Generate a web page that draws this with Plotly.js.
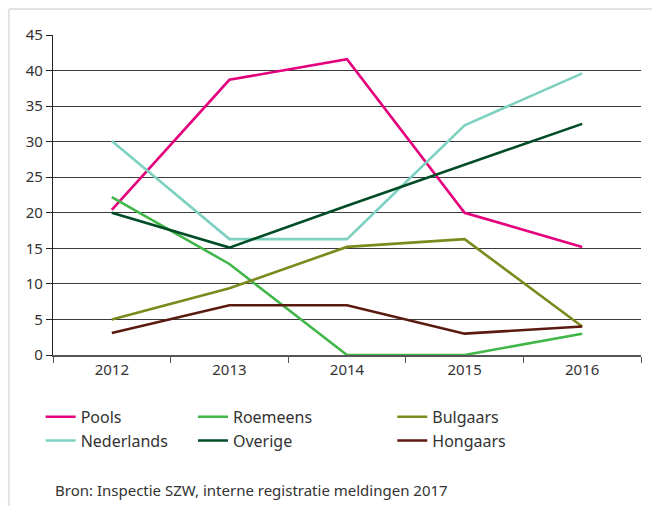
<!DOCTYPE html>
<html>
<head>
<meta charset="utf-8">
<script src="https://cdn.plot.ly/plotly-3.0.1.min.js"></script>
<style>
html,body{margin:0;padding:0;background:#fff;}
#chart{width:652px;height:506px;}
</style>
</head>
<body>
<div id="chart"></div>
<script>
const years = ['2012', '2013', '2014', '2015', '2016'];
const yTicks = [0, 5, 10, 15, 20, 25, 30, 35, 40, 45];

const pools = [20.4, 38.7, 41.6, 20.0, 15.2];
const roemeens = [22.2, 12.8, 0, 0, 3.0];
const bulgaars = [5.0, 9.4, 15.2, 16.3, 4.0];
const nederlands = [30.1, 16.3, 16.3, 32.3, 39.6];
const overige = [20.0, 15.1, 21.0, 26.8, 32.5];
const hongaars = [3.1, 7.0, 7.0, 3.0, 4.0];

const sourceText = 'Bron: Inspectie SZW, interne registratie meldingen 2017';

const FONT = '"Noto Sans", "Open Sans", sans-serif';

function tr(name, y, color, legend) {
  return {
    type: 'scatter', mode: 'lines', name: name, x: years, y: y,
    line: {color: color, width: 2.6},
    legend: legend, hoverinfo: 'x+y+name'
  };
}

const data = [
  tr('Pools', pools, '#e4007c', 'legend'),
  tr('Nederlands', nederlands, '#7dd1c1', 'legend'),
  tr('Roemeens', roemeens, '#41b649', 'legend2'),
  tr('Overige', overige, '#004d25', 'legend2'),
  tr('Bulgaars', bulgaars, '#7c8a1d', 'legend3'),
  tr('Hongaars', hongaars, '#5a1a10', 'legend3')
];

const legendCommon = {
  orientation: 'v', yanchor: 'top', xanchor: 'left',
  font: {family: FONT, size: 16, color: '#333'},
  bgcolor: 'rgba(0,0,0,0)', borderwidth: 0, tracegroupgap: 0,
  itemwidth: 30
};

const legendY = -0.14;

const layout = {
  width: 652, height: 506,
  margin: {l: 53, r: 11, t: 35, b: 151},
  paper_bgcolor: '#fff', plot_bgcolor: '#fff',
  font: {family: FONT, size: 15, color: '#333'},
  showlegend: true,
  xaxis: {
    type: 'category', range: [-0.5, 4.5],
    tickson: 'boundaries', ticks: 'outside', ticklen: 6, tickcolor: '#555',
    showline: true, linecolor: '#555', linewidth: 1.5,
    showgrid: false, zeroline: false,
    tickfont: {family: FONT, size: 15, color: '#333'}
  },
  yaxis: {
    range: [0, 45], tickvals: yTicks,
    ticks: 'outside', ticklen: 6, tickcolor: '#222',
    showline: true, linecolor: '#222', linewidth: 1.2,
    showgrid: true, gridcolor: '#3a3a3a', gridwidth: 1.2,
    zeroline: false,
    tickfont: {family: FONT, size: 15, color: '#333'}
  },
  legend: Object.assign({}, legendCommon, {x: -0.021, y: legendY}),
  legend2: Object.assign({}, legendCommon, {x: 0.238, y: legendY}),
  legend3: Object.assign({}, legendCommon, {x: 0.577, y: legendY}),
  shapes: [
    {type: 'line', xref: 'paper', yref: 'paper', x0: -0.075, x1: -0.075, y0: 1.081, y1: -0.5,
     line: {color: '#e2e2e2', width: 2}},
    {type: 'line', xref: 'paper', yref: 'paper', x0: -0.075, x1: 1.03, y0: 1.081, y1: 1.081,
     line: {color: '#e2e2e2', width: 2}}
  ],
  annotations: [
    {xref: 'paper', yref: 'paper', x: 0, y: -0.422, xanchor: 'left', yanchor: 'middle',
     text: sourceText, showarrow: false,
     font: {family: FONT, size: 15, color: '#333'}}
  ]
};

Plotly.newPlot('chart', data, layout, {displayModeBar: false, responsive: false});
</script>
</body>
</html>
